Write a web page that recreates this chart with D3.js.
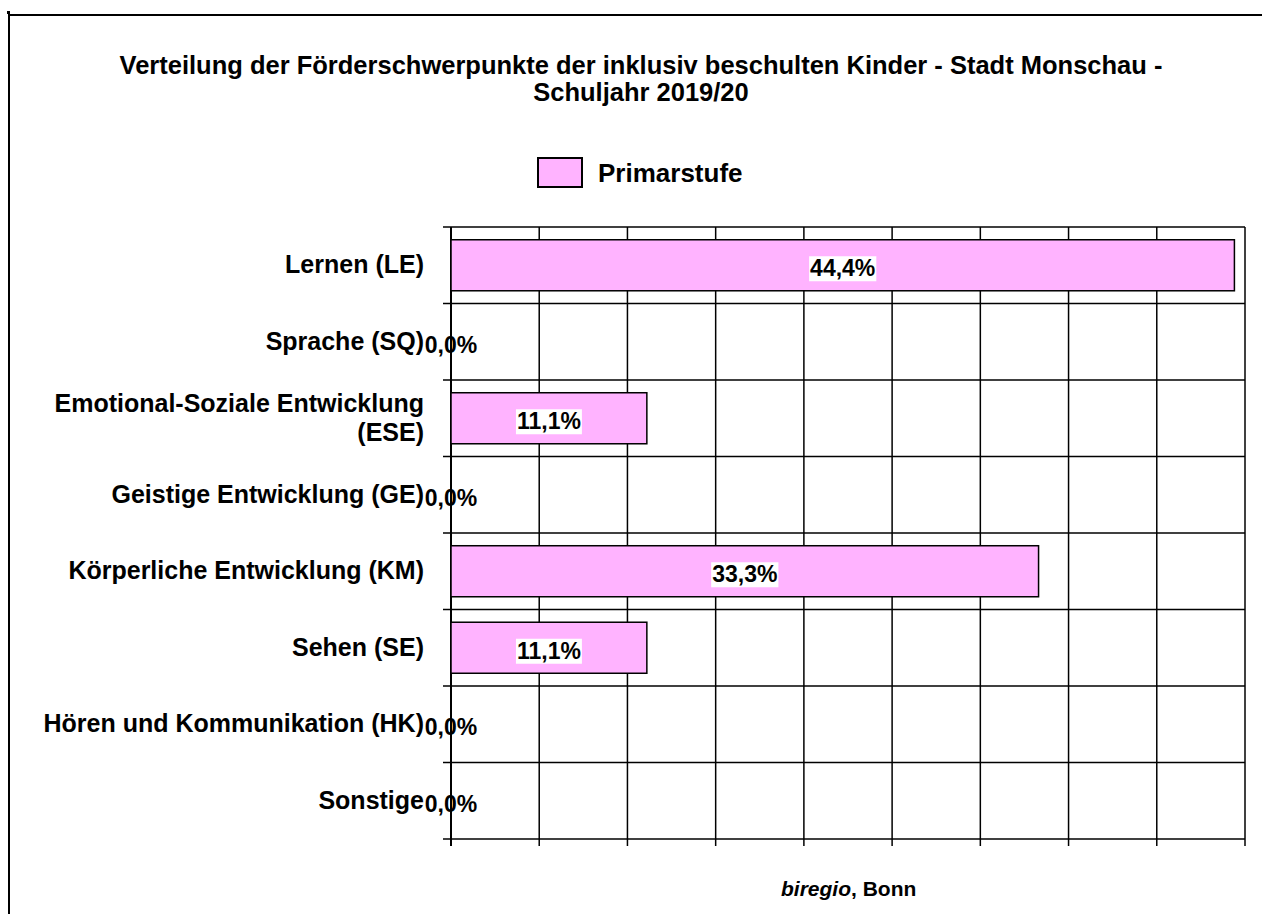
<!DOCTYPE html>
<html><head><meta charset="utf-8">
<script src="https://cdn.jsdelivr.net/npm/d3@7"></script>
<style>
html,body{margin:0;padding:0;background:#fff;}
text{font-family:"Liberation Sans",Arial,sans-serif;font-weight:bold;fill:#000;}
</style></head>
<body>
<svg id="c" width="1262" height="914"></svg>
<script>
const titleLines = ["Verteilung der Förderschwerpunkte der inklusiv beschulten Kinder - Stadt Monschau -", "Schuljahr 2019/20"];
const seriesName = "Primarstufe";
const categories = ["Lernen (LE)", "Sprache (SQ)", "Emotional-Soziale Entwicklung\n(ESE)", "Geistige Entwicklung (GE)", "Körperliche Entwicklung (KM)", "Sehen (SE)", "Hören und Kommunikation (HK)", "Sonstige"];
const values = [44.4, 0.0, 11.1, 0.0, 33.3, 11.1, 0.0, 0.0];
const xTicks = [0, 5, 10, 15, 20, 25, 30, 35, 40, 45];

const svg = d3.select("#c");
const fmt = d3.formatLocale({decimal: ",", thousands: ".", grouping: [3], currency: ["", "€"]}).format(".1f");
const FS = 23;

// frame
svg.append("line").attr("x1", 8).attr("x2", 1262).attr("y1", 15).attr("y2", 15).attr("stroke", "#000").attr("stroke-width", 2);
svg.append("line").attr("x1", 9).attr("x2", 9).attr("y1", 12).attr("y2", 914).attr("stroke", "#000").attr("stroke-width", 2);
svg.append("rect").attr("x", 7).attr("y", 11).attr("width", 3).attr("height", 3).attr("fill", "#000");

// title
svg.append("text").attr("x", 641).attr("y", 74).attr("text-anchor", "middle").style("font-size", "25.5px")
  .selectAll("tspan").data(titleLines).join("tspan").attr("x", 641).attr("dy", (d, i) => i ? 27 : 0).text(d => d);

// legend
svg.append("rect").attr("x", 538).attr("y", 158).attr("width", 44).attr("height", 29).attr("fill", "#FFB3FF").attr("stroke", "#000").attr("stroke-width", 2);
svg.append("text").attr("x", 598).attr("y", 182).style("font-size", "26px").text(seriesName);

const x = d3.scaleLinear().domain([0, 45]).range([451, 1245]);
const rows = d3.scaleBand().domain(categories).range([227, 839]);
const y = d3.scaleBand().domain(categories).range([227, 839]).paddingInner(0.333).paddingOuter(0.1667);

const g = svg.append("g");
// vertical gridlines
g.selectAll("line.vg").data(xTicks).join("line").attr("class", "vg")
  .attr("x1", d => x(d)).attr("x2", d => x(d)).attr("y1", 227).attr("y2", 846)
  .attr("stroke", "#000").attr("stroke-width", 1.5);
// horizontal row lines
const bounds = categories.map(c => rows(c)).concat([839]);
g.selectAll("line.hg").data(bounds).join("line").attr("class", "hg")
  .attr("x1", 443).attr("x2", 1245).attr("y1", d => d).attr("y2", d => d)
  .attr("stroke", "#000").attr("stroke-width", 1.5);
// axis line
g.append("line").attr("x1", x(0)).attr("x2", x(0)).attr("y1", 227).attr("y2", 846).attr("stroke", "#000").attr("stroke-width", 2);

// bars
svg.selectAll("rect.bar").data(categories.map((c, i) => ({c, v: values[i]})).filter(d => d.v > 0)).join("rect")
  .attr("class", "bar").attr("x", x(0)).attr("y", d => y(d.c)).attr("width", d => x(d.v) - x(0)).attr("height", y.bandwidth())
  .attr("fill", "#FFB3FF").attr("stroke", "#000").attr("stroke-width", 1.5);

// category labels
const cl = svg.append("g");
categories.forEach(c => {
  const lines = c.split("\n");
  const cy = rows(c) + rows.bandwidth() / 2;
  const t = cl.append("text").attr("text-anchor", "end").style("font-size", "25px");
  lines.forEach((ln, i) => {
    t.append("tspan").attr("x", 424).attr("y", cy + 8 + (i - (lines.length - 1) / 2) * 29).text(ln);
  });
});

// value labels
const vl = svg.append("g");
categories.forEach((c, i) => {
  const v = values[i];
  const cy = rows(c) + rows.bandwidth() / 2;
  const cx = (x(0) + x(v)) / 2;
  const t = vl.append("text").attr("x", cx).attr("y", cy + 11).attr("text-anchor", "middle").style("font-size", FS + "px").text(fmt(v) + "%");
  if (v > 0) {
    const b = t.node().getBBox();
    vl.insert("rect", "text").attr("x", b.x - 1).attr("y", b.y + 1).attr("width", b.width + 2).attr("height", b.height - 1).attr("fill", "#fff");
  }
});

// footer
const f = svg.append("text").attr("x", 781).attr("y", 896).style("font-size", "21px");
f.append("tspan").style("font-style", "italic").text("biregio");
f.append("tspan").text(", Bonn");
</script>
</body></html>
